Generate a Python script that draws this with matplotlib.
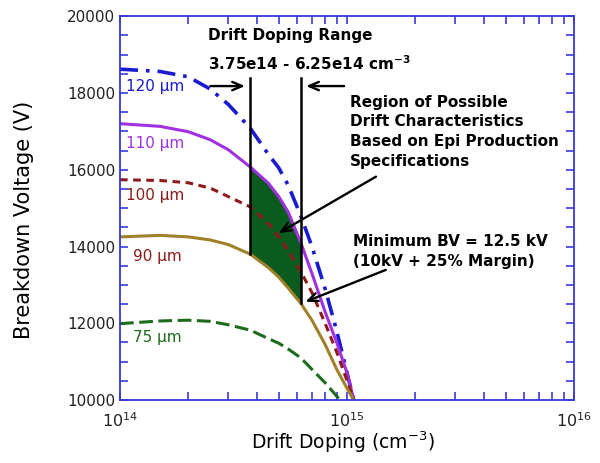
import numpy as np
import matplotlib
matplotlib.use("Agg")
import matplotlib.pyplot as plt
from matplotlib.ticker import MultipleLocator, LogLocator, LogFormatterMathtext, NullFormatter

plt.rcParams["font.family"] = ["DejaVu Sans"]
plt.rcParams["mathtext.default"] = "regular"

# drift doping grid (cm^-3) and breakdown voltage (V) per drift thickness
doping = np.array([1.0, 1.5, 2.0, 2.5, 3.0, 3.75, 4.5, 5.0, 5.5, 6.25, 7.0, 8.0, 9.0, 10.0, 10.7]) * 1e14
bv_120 = [18620, 18560, 18420, 18100, 17700, 17080, 16400, 16050, 15600, 14800, 14000, 12900, 11800, 10700, 10000]
bv_110 = [17200, 17130, 16990, 16780, 16520, 16070, 15650, 15300, 14900, 14100, 13300, 12300, 11500, 10700, 10000]
bv_100 = [15740, 15720, 15660, 15520, 15300, 15030, 14600, 14250, 13900, 13350, 12800, 12000, 11250, 10500, 10000]
bv_90 = [14250, 14290, 14250, 14170, 14050, 13800, 13450, 13200, 12920, 12520, 12080, 11450, 10800, 10300, 10000]
doping_75 = np.array([1.0, 1.5, 2.0, 2.5, 3.0, 3.75, 4.5, 5.0, 5.5, 6.25, 7.0, 8.0, 9.0, 9.3]) * 1e14
bv_75 = [11990, 12060, 12080, 12050, 11960, 11820, 11600, 11480, 11330, 11100, 10800, 10450, 10100, 10000]

# epi production spec window
dop_lo = 3.75e14
dop_hi = 6.25e14
range_top = 18400

fig = plt.figure(figsize=(6, 4.63), dpi=100)
ax = fig.add_axes([0.2, 0.136, 0.757, 0.829])

blue = "#1a1ad0"
purple = "#a030e0"
darkred = "#8c1a1a"
olive = "#a08028"
green = "#1e6b1e"

ax.plot(doping, bv_120, color=blue, lw=2.6, dashes=(5, 2.2, 1, 2.2))
ax.plot(doping, bv_110, color=purple, lw=2.2)
ax.plot(doping, bv_100, color=darkred, lw=2.2, dashes=(2.5, 1.8))
ax.plot(doping, bv_90, color=olive, lw=2.2)
ax.plot(doping_75, bv_75, color=green, lw=2.2, dashes=(4.5, 1.8))

# region between 90 and 110 um curves inside the spec window
inside = (doping >= dop_lo) & (doping <= dop_hi)
ax.fill_between(doping[inside], np.array(bv_90)[inside], np.array(bv_110)[inside],
                color="#0b5a1e", zorder=1)

lo_idx = np.where(doping == dop_lo)[0][0]
hi_idx = np.where(doping == dop_hi)[0][0]
ax.plot([dop_lo, dop_lo], [bv_90[lo_idx], range_top], color="black", lw=1.8)
ax.plot([dop_hi, dop_hi], [bv_90[hi_idx], range_top], color="black", lw=1.8)

arrow = dict(arrowstyle="->, head_length=0.7, head_width=0.3", color="black", lw=1.7,
             shrinkA=0, shrinkB=0)
ax.annotate("", xy=(3.55e14, 18180), xytext=(2.5e14, 18180), arrowprops=arrow)
ax.annotate("", xy=(6.6e14, 18180), xytext=(9.7e14, 18180), arrowprops=arrow)
ax.annotate("", xy=(5.0e14, 14350), xytext=(1.34e15, 15820), arrowprops=arrow)
ax.annotate("", xy=(6.55e14, 12560), xytext=(1.48e15, 13390), arrowprops=arrow)

note_kw = dict(fontsize=11, fontweight="bold", va="center", linespacing=1.4)
ax.text(2.44e14, 19500, "Drift Doping Range", **note_kw)
ax.text(2.44e14, 18770, "3.75e14 - 6.25e14 cm$^{-3}$", **note_kw)
ax.text(1.03e15, 16990, "Region of Possible\nDrift Characteristics\nBased on Epi Production\nSpecifications",
        **note_kw)
ax.text(1.06e15, 13880, "Minimum BV = 12.5 kV\n(10kV + 25% Margin)", **note_kw)

label_kw = dict(fontsize=11, va="center")
ax.text(1.06e14, 18170, "120 µm", color=blue, **label_kw)
ax.text(1.06e14, 16680, "110 µm", color=purple, **label_kw)
ax.text(1.06e14, 15330, "100 µm", color=darkred, **label_kw)
ax.text(1.14e14, 13740, "90 µm", color=darkred, **label_kw)
ax.text(1.14e14, 11630, "75 µm", color=green, **label_kw)

ax.set_xscale("log")
ax.set_xlim(1e14, 1e16)
ax.set_ylim(10000, 20000)
ax.xaxis.set_major_locator(LogLocator(base=10))
ax.xaxis.set_major_formatter(LogFormatterMathtext())
ax.xaxis.set_minor_locator(LogLocator(base=10, subs=np.arange(2, 10)))
ax.xaxis.set_minor_formatter(NullFormatter())
ax.yaxis.set_major_locator(MultipleLocator(2000))
ax.yaxis.set_minor_locator(MultipleLocator(500))

axis_blue = "#3838e0"
for sp in ax.spines.values():
    sp.set_color(axis_blue)
    sp.set_linewidth(1.3)
ax.tick_params(which="both", direction="in", top=True, right=True, color=axis_blue,
               length=6, width=1.2, labelsize=11, labelcolor="#222222")
ax.tick_params(axis="x", which="major", pad=8, labelsize=11.5)

ax.set_xlabel("Drift Doping (cm$^{-3}$)", fontsize=13.5, color="black")
ax.set_ylabel("Breakdown Voltage (V)", fontsize=15, color="black")
ax.xaxis.set_label_coords(0.491, -0.078)
ax.yaxis.set_label_coords(-0.19, 0.47)

fig.savefig("out.png", dpi=100)
